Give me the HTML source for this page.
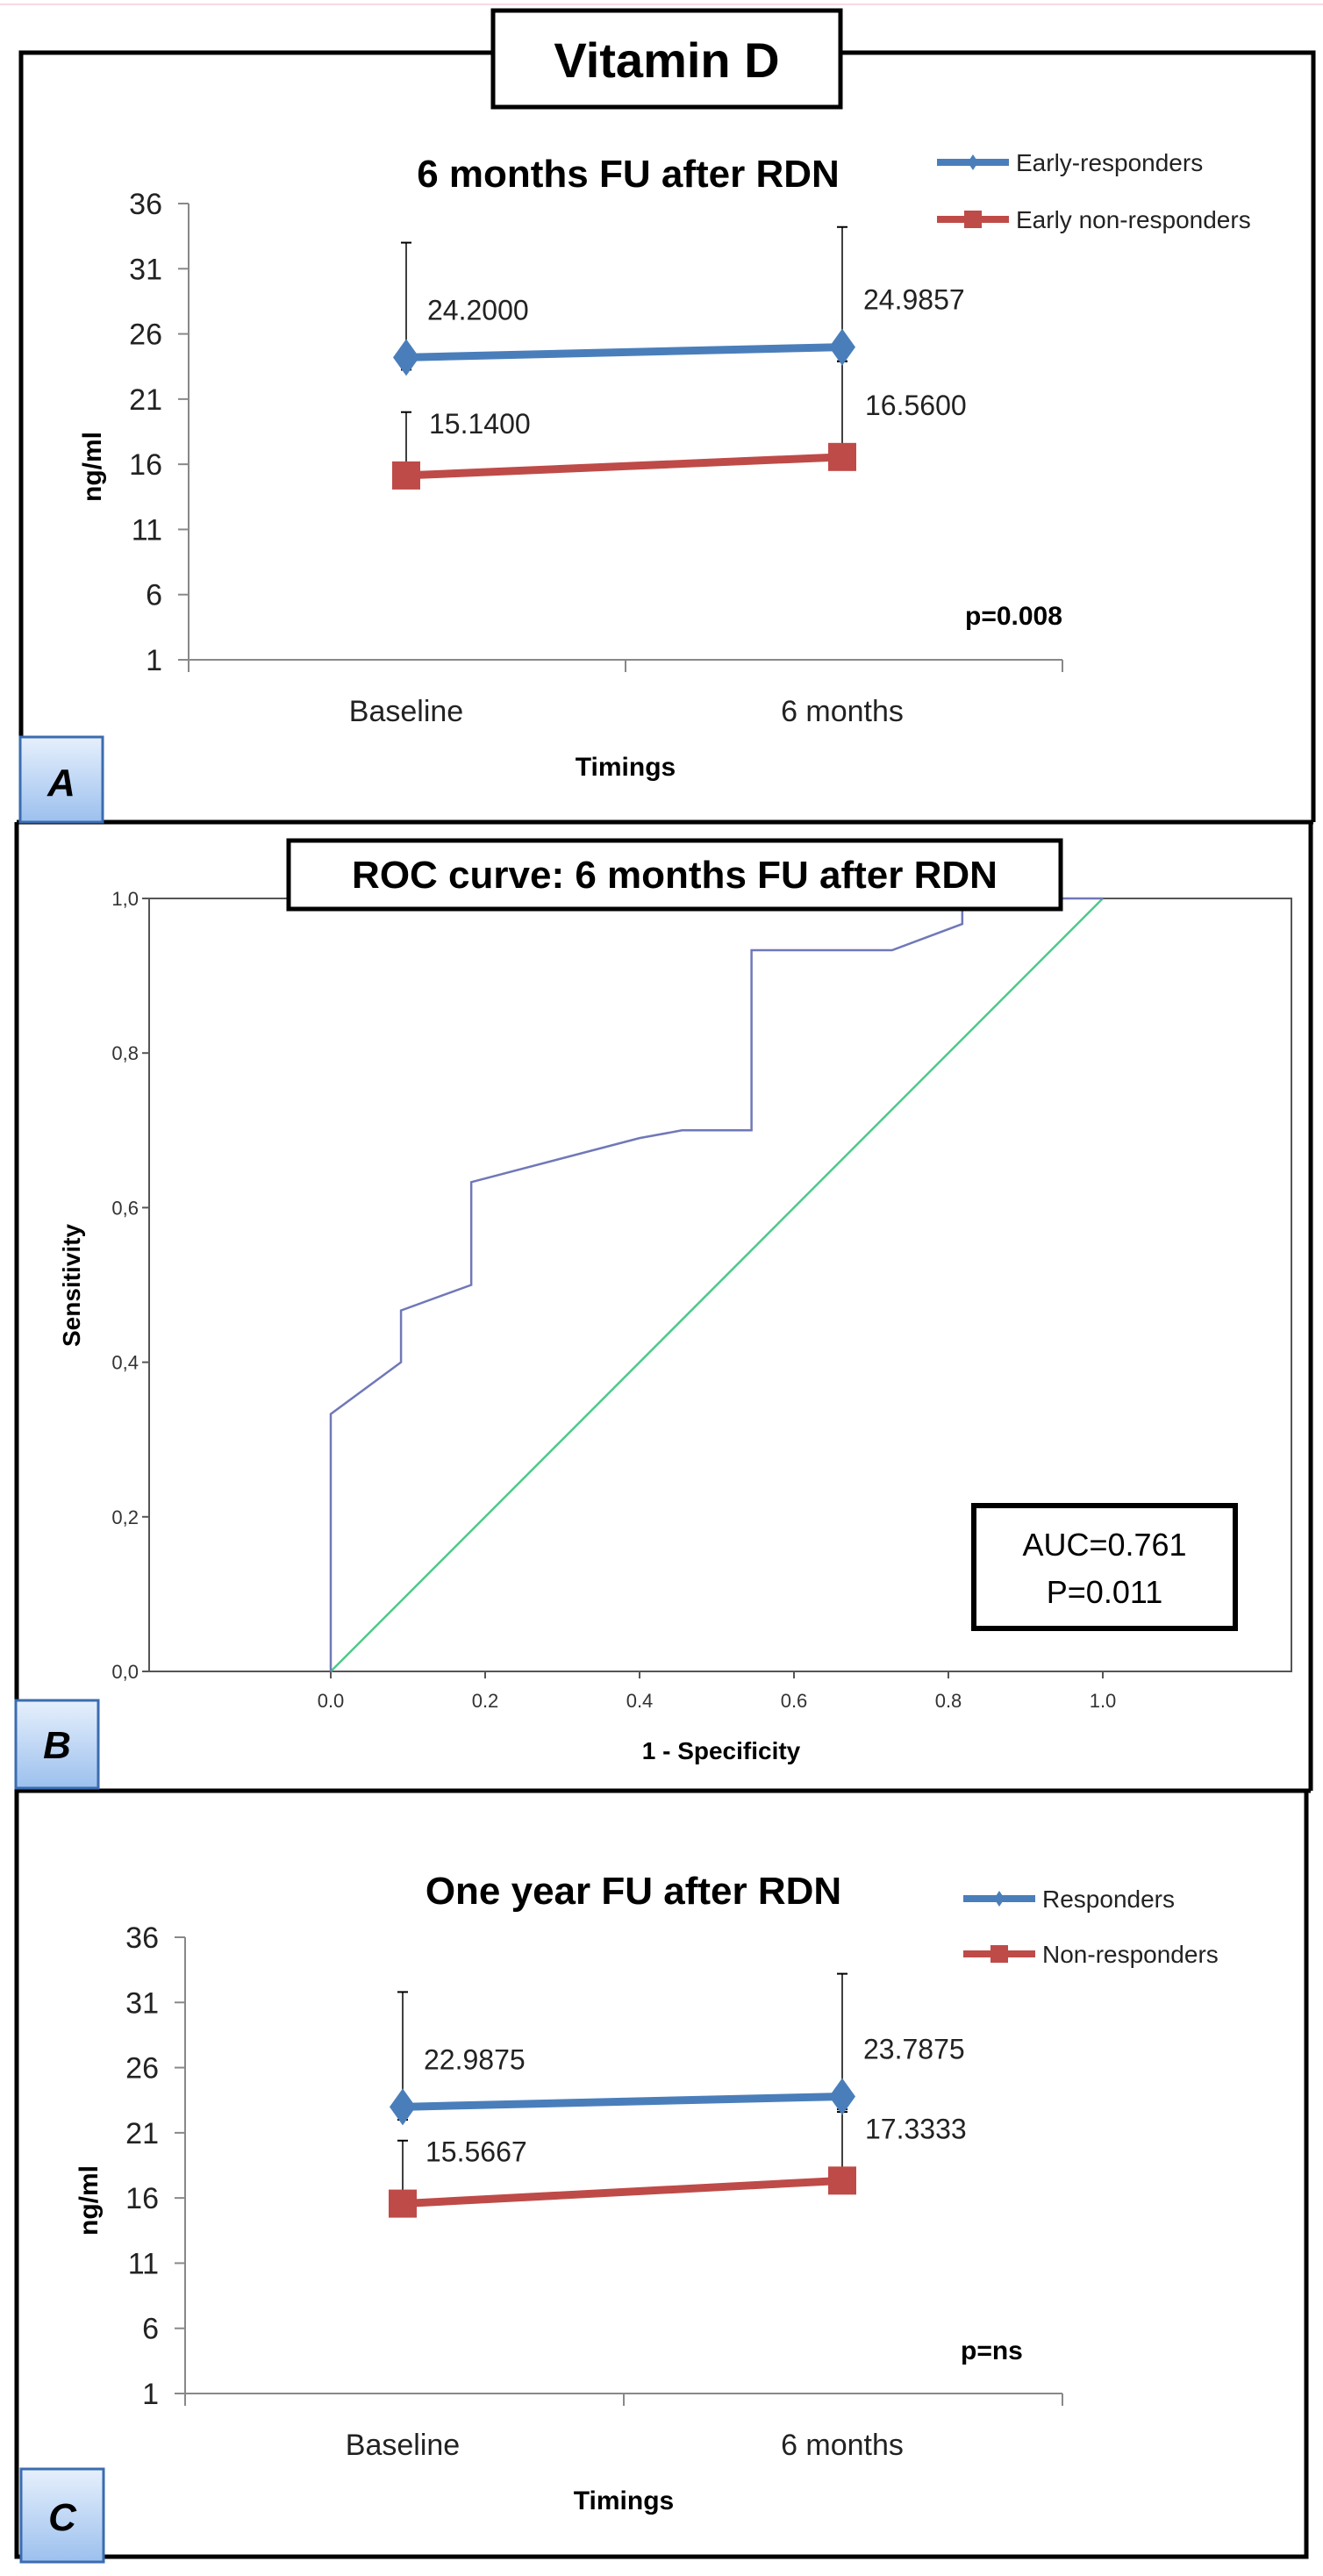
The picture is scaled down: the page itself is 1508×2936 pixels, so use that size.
<!DOCTYPE html>
<html><head><meta charset="utf-8"><style>
html,body{margin:0;padding:0;background:#fff}
svg{display:block;font-family:"Liberation Sans",sans-serif}
</style></head><body>
<svg id="fig" width="1508" height="2936" viewBox="0 0 1508 2936" xmlns="http://www.w3.org/2000/svg">
<defs>
<linearGradient id="lbl" x1="0" y1="0" x2="0" y2="1"><stop offset="0" stop-color="#e6f0fc"/><stop offset="1" stop-color="#9cc0ee"/></linearGradient>
</defs>
<line x1="0" y1="5" x2="1508" y2="5" stroke="#f9d9e4" stroke-width="2"/>
<g fill="none" stroke="#000" stroke-width="5">
<polyline points="562,60 24,60 24,937"/><polyline points="958,60 1497,60 1497,937"/>
<line x1="19" y1="937" x2="1497" y2="937"/>
</g>
<g fill="none" stroke="#000" stroke-width="5">
<line x1="19" y1="937" x2="19" y2="2041"/><line x1="1494" y1="937" x2="1494" y2="2041"/><line x1="19" y1="2041" x2="1494" y2="2041"/>
</g>
<g fill="none" stroke="#000" stroke-width="5">
<polyline points="19,2041 19,2914 1489,2914 1489,2041"/>
</g>
<g>
<rect x="562" y="12" width="396" height="110" fill="#fff" stroke="#000" stroke-width="5"/>
<text x="760" y="88" font-size="56" font-weight="bold" text-anchor="middle">Vitamin D</text>
</g>
<g id="chartA"></g>
<g id="chartB"></g>
<g id="chartC"></g>
<g><rect x="23" y="840" width="94" height="97" fill="url(#lbl)" stroke="#3b6cb0" stroke-width="3"/><text x="70" y="907" font-size="44" font-weight="bold" font-style="italic" text-anchor="middle">A</text></g>
<g><rect x="18" y="1938" width="94" height="100" fill="url(#lbl)" stroke="#3b6cb0" stroke-width="3"/><text x="65" y="2004" font-size="44" font-weight="bold" font-style="italic" text-anchor="middle">B</text></g>
<g><rect x="24" y="2814" width="94" height="106" fill="url(#lbl)" stroke="#3b6cb0" stroke-width="3"/><text x="71" y="2884" font-size="44" font-weight="bold" font-style="italic" text-anchor="middle">C</text></g>
</svg>
<script>
const NS="http://www.w3.org/2000/svg";
// Panel A data
const catsA=["Baseline","6 months"];
const yTicksLine=[1,6,11,16,21,26,31,36];
const blueA=[24.2,24.9857];
const blueAErrHi=[33.0,34.2];
const blueAErrLo=[23.25,23.9];
const redA=[15.14,16.56];
const redAErrHi=[20.0,23.9];
const blueALabels=["24.2000","24.9857"];
const redALabels=["15.1400","16.5600"];
// Panel C data
const catsC=["Baseline","6 months"];
const blueC=[22.9875,23.7875];
const blueCErrHi=[31.8,33.2];
const blueCErrLo=[22.0,22.8];
const redC=[15.5667,17.3333];
const redCErrHi=[20.4,22.6];
const blueCLabels=["22.9875","23.7875"];
const redCLabels=["15.5667","17.3333"];
// Panel B ROC data
const rocX=[0,0,0.091,0.091,0.182,0.182,0.4,0.455,0.545,0.545,0.727,0.818,0.818,1];
const rocY=[0,0.333,0.4,0.467,0.5,0.633,0.69,0.7,0.7,0.933,0.933,0.967,1,1];
const refX=[0,1];
const refY=[0,1];
const rocTicks=[0,0.2,0.4,0.6,0.8,1.0];
const rocTickLabels=["0,0","0,2","0,4","0,6","0,8","1,0"];
const rocXTickLabels=["0.0","0.2","0.4","0.6","0.8","1.0"];

function mk(parent,tag,attrs,text){const e=document.createElementNS(NS,tag);for(const k in attrs)e.setAttribute(k,attrs[k]);if(text!==undefined)e.textContent=text;parent.appendChild(e);return e;}

function lineChart(g,o){
  const y=v=>o.yTop+(36-v)*(o.yBot-o.yTop)/35;
  const x=i=>o.cx[i];
  const ax=mk(g,'line',{x1:o.ax,y1:o.yTop,x2:o.ax,y2:o.yBot,stroke:'#888','stroke-width':2});
  
  
  const xa=mk(g,'line',{x1:o.ax,y1:o.yBot,x2:o.axEnd,y2:o.yBot,stroke:'#888','stroke-width':2});
  
  
  [o.ax,(o.ax+o.axEnd)/2,o.axEnd].forEach(tx=>mk(g,'line',{x1:tx,y1:o.yBot,x2:tx,y2:o.yBot+14,stroke:'#888','stroke-width':2}));
  yTicksLine.forEach(t=>{
    mk(g,'line',{x1:o.ax-12,y1:y(t),x2:o.ax,y2:y(t),stroke:'#888','stroke-width':2});
    const tl=mk(g,'text',{x:o.ax-30,y:y(t)+12,'font-size':34,'text-anchor':'end',fill:'#222'},String(t));
    
    
  });
  o.cats.forEach((c,i)=>{
    const cl=mk(g,'text',{x:x(i),y:o.yBot+70,'font-size':34,'text-anchor':'middle',fill:'#222'},c);
    
    
  });
  const xt=mk(g,'text',{x:(o.ax+o.axEnd)/2,y:o.yBot+132,'font-size':30,'font-weight':'bold','text-anchor':'middle'},'Timings');
  
  
  const yt=mk(g,'text',{x:0,y:0,'font-size':30,'font-weight':'bold','text-anchor':'middle',transform:`translate(${o.ax-100},${(o.yTop+o.yBot)/2+40}) rotate(-90)`},'ng/ml');
  
  
  const tt=mk(g,'text',{x:o.titleX,y:o.titleY,'font-size':44,'font-weight':'bold','text-anchor':'middle'},o.title);
  
  
  const eb=(vals,hi,lo)=>vals.forEach((v,i)=>{
    mk(g,'line',{x1:x(i),y1:y(hi[i]),x2:x(i),y2:y(lo?lo[i]:v),stroke:'#000','stroke-width':1.5});
    mk(g,'line',{x1:x(i)-6,y1:y(hi[i]),x2:x(i)+6,y2:y(hi[i]),stroke:'#000','stroke-width':2});
    if(lo)mk(g,'line',{x1:x(i)-6,y1:y(lo[i]),x2:x(i)+6,y2:y(lo[i]),stroke:'#000','stroke-width':2});
  });
  eb(o.blue,o.bHi,o.bLo);eb(o.red,o.rHi,null);
  const bl=mk(g,'polyline',{points:o.blue.map((v,i)=>x(i)+','+y(v)).join(' '),fill:'none',stroke:'#4a7ebb','stroke-width':9});
  
  
  const rl=mk(g,'polyline',{points:o.red.map((v,i)=>x(i)+','+y(v)).join(' '),fill:'none',stroke:'#be4b48','stroke-width':9});
  
  
  o.blue.forEach((v,i)=>{
    const d=mk(g,'polygon',{points:`${x(i)},${y(v)-21} ${x(i)+15},${y(v)} ${x(i)},${y(v)+21} ${x(i)-15},${y(v)}`,fill:'#4a7ebb'});
    
    
    const l=mk(g,'text',{x:x(i)+24,y:y(v)-43,'font-size':32,fill:'#222'},o.bLab[i]);
    
    
  });
  o.red.forEach((v,i)=>{
    const d=mk(g,'rect',{x:x(i)-16,y:y(v)-16,width:32,height:32,fill:'#be4b48'});
    
    
    const l=mk(g,'text',{x:x(i)+26,y:y(v)-48,'font-size':32,fill:'#222'},o.rLab[i]);
    
    
  });
  o.leg.forEach((L,k)=>{
    mk(g,'line',{x1:o.legX,y1:L.y,x2:o.legX+82,y2:L.y,stroke:L.c,'stroke-width':8});
    if(k==0)mk(g,'polygon',{points:`${o.legX+41},${L.y-9} ${o.legX+47},${L.y} ${o.legX+41},${L.y+9} ${o.legX+35},${L.y}`,fill:L.c});
    else mk(g,'rect',{x:o.legX+31,y:L.y-10,width:20,height:20,fill:L.c});
    const t=mk(g,'text',{x:o.legX+90,y:L.y+10,'font-size':28,fill:'#222'},L.t);
    
    
  });
  const p=mk(g,'text',{x:o.pX,y:o.pY,'font-size':30,'font-weight':'bold'},o.p);
  
  
}

lineChart(document.getElementById('chartA'),{yTop:232,yBot:752,ax:215,axEnd:1211,cx:[463,960],cats:catsA,
 blue:blueA,bHi:blueAErrHi,bLo:blueAErrLo,red:redA,rHi:redAErrHi,bLab:blueALabels,rLab:redALabels,
 title:"6 months FU after RDN",titleX:716,titleY:213,legX:1068,
 leg:[{y:185,c:'#4a7ebb',t:'Early-responders'},{y:250,c:'#be4b48',t:'Early non-responders'}],
 p:"p=0.008",pX:1100,pY:712});
lineChart(document.getElementById('chartC'),{yTop:2208,yBot:2728,ax:211,axEnd:1211,cx:[459,960],cats:catsC,
 blue:blueC,bHi:blueCErrHi,bLo:blueCErrLo,red:redC,rHi:redCErrHi,bLab:blueCLabels,rLab:redCLabels,
 title:"One year FU after RDN",titleX:722,titleY:2170,legX:1098,
 leg:[{y:2164,c:'#4a7ebb',t:'Responders'},{y:2227,c:'#be4b48',t:'Non-responders'}],
 p:"p=ns",pX:1095,pY:2689});

(function(){
  const g=document.getElementById('chartB');
  const X0=377,X1=1257,Y0=1905,Y1=1024;
  const sx=v=>X0+v*(X1-X0), sy=v=>Y0-v*(Y0-Y1);
  const fr=mk(g,'rect',{x:170,y:1024,width:1302,height:881,fill:'#fff',stroke:'#555','stroke-width':2});
  
  
  rocTicks.forEach((t,i)=>{
    mk(g,'line',{x1:162,y1:sy(t),x2:170,y2:sy(t),stroke:'#555','stroke-width':2});
    const l=mk(g,'text',{x:158,y:sy(t)+8,'font-size':22,'text-anchor':'end',fill:'#333'},rocTickLabels[i]);
    
    
    mk(g,'line',{x1:sx(t),y1:1905,x2:sx(t),y2:1913,stroke:'#555','stroke-width':2});
    const m=mk(g,'text',{x:sx(t),y:1946,'font-size':22,'text-anchor':'middle',fill:'#333'},rocXTickLabels[i]);
    
    
  });
  const ref=mk(g,'polyline',{points:refX.map((v,i)=>sx(v)+','+sy(refY[i])).join(' '),fill:'none',stroke:'#4ec98a','stroke-width':2.5});
  
  
  const roc=mk(g,'polyline',{points:rocX.map((v,i)=>sx(v)+','+sy(rocY[i])).join(' '),fill:'none',stroke:'#7078b8','stroke-width':2.5});
  
  
  const yt=mk(g,'text',{x:0,y:0,'font-size':28,'font-weight':'bold','text-anchor':'middle',transform:'translate(91,1465) rotate(-90)'},'Sensitivity');
  
  
  const xt=mk(g,'text',{x:822,y:2005,'font-size':28,'font-weight':'bold','text-anchor':'middle'},'1 - Specificity');
  
  
  const tb=mk(g,'rect',{x:329,y:958,width:880,height:78,fill:'#fff',stroke:'#000','stroke-width':5});
  
  
  const tt=mk(g,'text',{x:769,y:1012,'font-size':44,'font-weight':'bold','text-anchor':'middle'},'ROC curve: 6 months FU after RDN');
  
  
  const ab=mk(g,'rect',{x:1110,y:1716,width:298,height:140,fill:'#fff',stroke:'#000','stroke-width':6});
  
  
  const a1=mk(g,'text',{x:1259,y:1773,'font-size':36,'text-anchor':'middle'},'AUC=0.761');
  
  
  const a2=mk(g,'text',{x:1259,y:1827,'font-size':36,'text-anchor':'middle'},'P=0.011');
  
  
})();
</script>
</body></html>
